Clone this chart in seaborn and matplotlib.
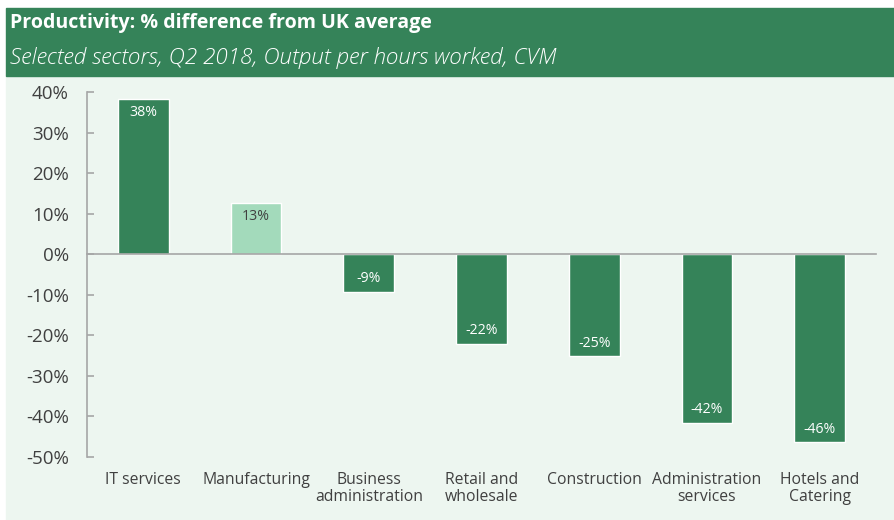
import matplotlib
matplotlib.use("Agg")
import matplotlib.pyplot as plt
from matplotlib.patches import Rectangle
import seaborn as sns
import pandas as pd

# Sector productivity, % difference from the UK average
sectors = ["IT services", "Manufacturing", "Business\nadministration",
           "Retail and\nwholesale", "Construction", "Administration\nservices",
           "Hotels and\nCatering"]
values = [38.2, 12.6, -9.3, -22.2, -25.2, -41.7, -46.4]
highlight = [False, True, False, False, False, False, False]
y_ticks = [40, 30, 20, 10, 0, -10, -20, -30, -40, -50]

DARK = "#358359"
LIGHT = "#a3dabb"
PANEL = "#edf6f0"
AXIS = "#a6a6a6"
TEXT = "#404040"

sns.set_theme(style="white")
plt.rcParams["font.family"] = ["Open Sans", "DejaVu Sans"]

df = pd.DataFrame({"sector": sectors, "value": values, "hl": highlight})
palette = [LIGHT if h else DARK for h in highlight]

fig = plt.figure(figsize=(8.95, 5.2), dpi=100)
fig.patch.set_facecolor("white")

# Light panel and green header band, kept behind the axes
fig.patches.append(Rectangle((6 / 895, 0), 1 - 6 / 895, 1 - 76 / 520,
                             transform=fig.transFigure, color=PANEL, zorder=-5))
fig.patches.append(Rectangle((6 / 895, 1 - 76 / 520), 1 - 6 / 895, 68 / 520,
                             transform=fig.transFigure, color=DARK, zorder=-5))
fig.text(10 / 895, 1 - 23 / 520, "Productivity: % difference from UK average",
         color="white", fontsize=14.1, fontweight="bold", va="center", ha="left")
fig.text(10 / 895, 1 - 58 / 520,
         "Selected sectors, Q2 2018, Output per hours worked, CVM",
         color="white", fontsize=16.2, style="italic", fontweight="light",
         va="center", ha="left")

ax = fig.add_axes([87 / 895, 1 - 457 / 520, (876 - 87) / 895, (457 - 92) / 520])
ax.set_facecolor("none")

sns.barplot(data=df, x="sector", y="value", hue="sector", palette=palette,
            legend=False, width=0.45, ax=ax, saturation=1, zorder=2)

ax.set_ylim(-50, 40)
ax.set_xlim(-0.5, len(sectors) - 0.5)
ax.set_yticks(y_ticks)
ax.set_yticklabels([f"{t}%" for t in y_ticks], color=TEXT, fontsize=13.5)
ax.set_xlabel("")
ax.set_ylabel("")

# Spines: left axis plus a zero line carrying the category boundary ticks
for s in ["top", "right"]:
    ax.spines[s].set_visible(False)
ax.spines["left"].set_color(AXIS)
ax.spines["left"].set_linewidth(1.2)
ax.spines["bottom"].set_position(("data", 0))
ax.spines["bottom"].set_color(AXIS)
ax.spines["bottom"].set_linewidth(1.2)
ax.set_xticks([i + 0.5 for i in range(-1, len(sectors))])
ax.set_xticklabels([])
ax.tick_params(axis="x", direction="in", length=4, color=AXIS, width=1.2)
ax.tick_params(axis="y", direction="in", length=5, color=AXIS, width=1.2,
               pad=13, left=True)

# Category names below the plot area
for i, name in enumerate(sectors):
    ax.text(i, -0.04, name, transform=ax.get_xaxis_transform(),
            ha="center", va="top", fontsize=11.3, color=TEXT, linespacing=1.15)

# Value labels inside the bar ends
for i, (v, h) in enumerate(zip(values, highlight)):
    off = -3.3 if v > 0 else 3.3
    ax.text(i, v + off, f"{round(v):d}%", ha="center", va="center",
            fontsize=10.2, color=TEXT if h else "white", zorder=3)

fig.savefig("out.png", dpi=100)
